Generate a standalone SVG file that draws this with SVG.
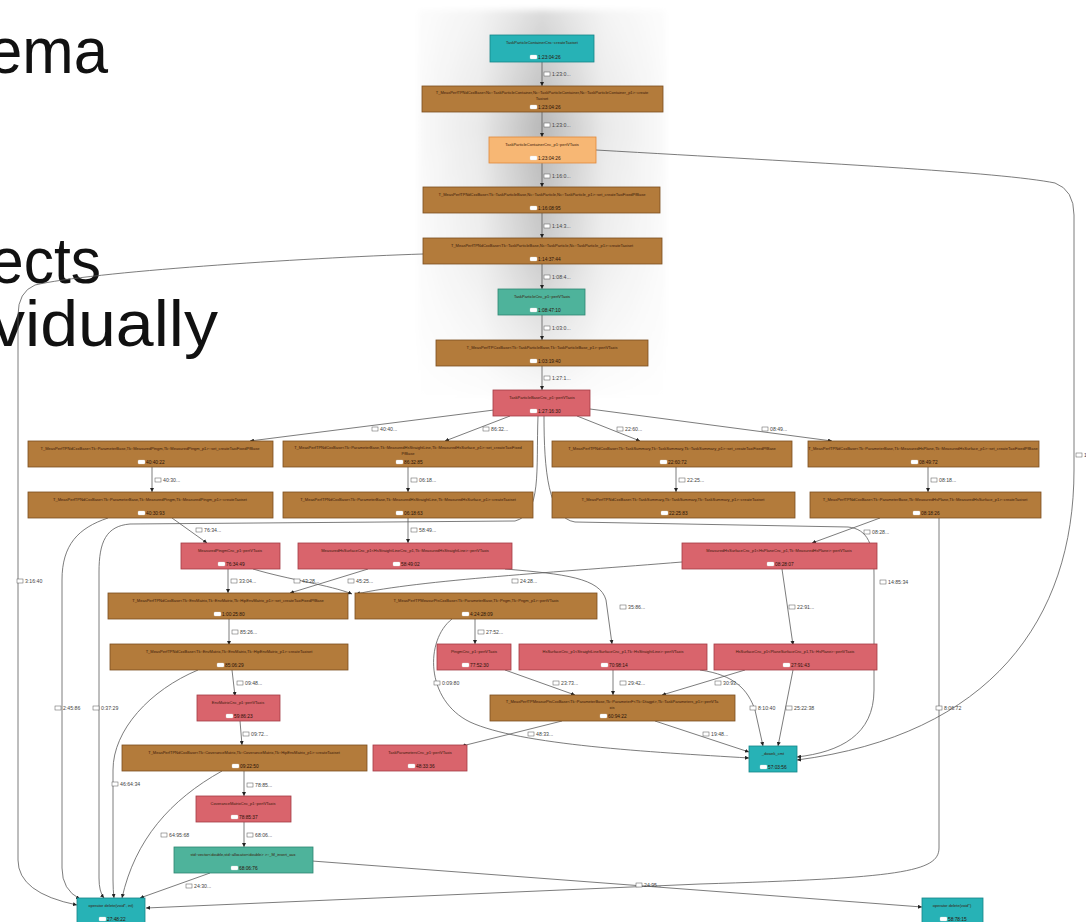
<svg xmlns="http://www.w3.org/2000/svg" width="1086" height="922" viewBox="0 0 1086 922">
<style>
.big{font-family:"Liberation Sans",Arial,sans-serif;font-size:64px;fill:#111}
.t{font-family:"Liberation Sans",Arial,sans-serif;font-size:4px;fill:#3a1a0a;text-anchor:middle}
.n{font-family:"Liberation Sans",Arial,sans-serif;font-size:4.8px;fill:#2a1208}
.brown{fill:#b37b3b;stroke:#7a4e1f;stroke-width:0.8}
.red{fill:#d9646c;stroke:#a33a44;stroke-width:0.8}
.cyan{fill:#27b2b6;stroke:#158488;stroke-width:0.8}
.green{fill:#4eb39b;stroke:#2d8670;stroke-width:0.8}
.orange{fill:#f7b774;stroke:#e0883a;stroke-width:0.8}
.ni{fill:#fff;stroke:#ddd;stroke-width:0.3}
.e{fill:none;stroke:#5a5a5a;stroke-width:0.8;marker-end:url(#a)}
.ic{fill:#fff;stroke:#555;stroke-width:0.5}
.el{font-family:"Liberation Sans",Arial,sans-serif;font-size:5.2px;fill:#444}
</style>
<defs>
<marker id="a" viewBox="0 0 6 6" refX="6" refY="3" markerWidth="4" markerHeight="4" orient="auto" markerUnits="userSpaceOnUse"><path d="M0,0 L6,3 L0,6z" fill="#222"/></marker>
<linearGradient id="hg" x1="0" y1="0" x2="1" y2="0">
<stop offset="0" stop-color="#fafafa"/><stop offset="0.25" stop-color="#e9e9e9"/><stop offset="0.5" stop-color="#b8b8b8"/><stop offset="0.75" stop-color="#e9e9e9"/><stop offset="1" stop-color="#fafafa"/>
</linearGradient>
<linearGradient id="vg" x1="0" y1="0" x2="0" y2="1">
<stop offset="0" stop-color="#fff" stop-opacity="0.5"/><stop offset="0.3" stop-color="#fff" stop-opacity="0"/><stop offset="0.65" stop-color="#fff" stop-opacity="0.3"/><stop offset="1" stop-color="#fff" stop-opacity="0.95"/>
</linearGradient>
<filter id="soft" x="-10%" y="-10%" width="120%" height="120%"><feGaussianBlur stdDeviation="3"/></filter>
</defs>
<rect width="1086" height="922" fill="#fff"/>
<g id="shade" filter="url(#soft)">
<rect x="418" y="10" width="248" height="388" fill="url(#hg)"/>
<rect x="418" y="10" width="248" height="388" fill="url(#vg)"/>
</g>
<g id="slide-text">
<text class="big" x="-12" y="73" textLength="120" lengthAdjust="spacingAndGlyphs">ema</text>
<text class="big" x="-10" y="283" textLength="111" lengthAdjust="spacingAndGlyphs">ects</text>
<text class="big" x="-9" y="346" textLength="227" lengthAdjust="spacingAndGlyphs">vidually</text>
</g>
<g id="connectors">
<path class="e" d="M542,62 L542,86"/>
<path class="e" d="M542,112 L542,137"/>
<path class="e" d="M542,163 L542,187"/>
<path class="e" d="M542,213 L542,238"/>
<path class="e" d="M542,264 L542,289"/>
<path class="e" d="M542,315 L542,340"/>
<path class="e" d="M542,366 L542,390"/>
<path class="e" d="M596,150 C820,163 1000,172 1055,183 Q1074,190 1074,215 L1074,470 C1074,620 990,735 797,760"/>
<path class="e" d="M423,254 C300,258 90,272 35,285 Q18,292 18,315 L18,860 Q18,893 77,905"/>
<path class="e" d="M494,410 L250,441"/>
<path class="e" d="M510,416 L445,441"/>
<path class="e" d="M577,416 L640,441"/>
<path class="e" d="M590,409 L832,441"/>
<path class="e" d="M152,467 L152,492"/>
<path class="e" d="M408,467 L408,492"/>
<path class="e" d="M676,467 L676,492"/>
<path class="e" d="M928,467 L928,492"/>
<path class="e" d="M172,518 L207,543"/>
<path class="e" d="M408,518 L408,543"/>
<path class="e" d="M880,518 L812,543"/>
<path class="e" d="M108,518 C78,528 62,545 62,580 L62,868 Q62,890 80,899"/>
<path class="e" d="M538,416 C536,470 542,514 515,521 L130,524 C106,526 99,542 99,572 L99,878 Q99,892 104,898"/>
<path class="e" d="M544,416 C544,470 548,518 575,522 L848,527 C868,529 874,545 874,575 L874,690 C874,735 840,752 797,757"/>
<path class="e" d="M228,569 L228,593"/>
<path class="e" d="M368,569 L290,593"/>
<path class="e" d="M253,569 C290,580 330,585 352,594"/>
<path class="e" d="M682,562 C560,572 420,580 356,594"/>
<path class="e" d="M505,569 C565,574 600,578 606,600 L612,644"/>
<path class="e" d="M782,569 L793,645"/>
<path class="e" d="M229,619 L229,645"/>
<path class="e" d="M475,619 L475,644"/>
<path class="e" d="M452,619 C425,640 425,700 470,722 C520,745 650,752 749,758"/>
<path class="e" d="M232,670 L235,696"/>
<path class="e" d="M198,670 C150,690 113,730 113,770 L113,880 Q113,890 114,898"/>
<path class="e" d="M505,670 L575,695"/>
<path class="e" d="M613,670 L613,695"/>
<path class="e" d="M745,670 L662,695"/>
<path class="e" d="M700,670 C735,675 748,690 755,710 L763,746"/>
<path class="e" d="M793,670 L778,746"/>
<path class="e" d="M562,721 L462,746"/>
<path class="e" d="M655,721 L749,752"/>
<path class="e" d="M240,721 L242,745"/>
<path class="e" d="M244,771 L244,796"/>
<path class="e" d="M222,771 C170,800 135,840 122,898"/>
<path class="e" d="M244,822 L244,847"/>
<path class="e" d="M210,873 L140,898"/>
<path class="e" d="M312,861 L922,907"/>
<path class="e" d="M939,518 L939,848 C939,872 900,878 700,884 L146,908"/>
<g id="edge-labels">
<rect class="ic" x="544" y="72" width="6" height="4"/><text class="el" x="552" y="76">1:23:0...</text>
<rect class="ic" x="544" y="123" width="6" height="4"/><text class="el" x="552" y="127">1:23:0...</text>
<rect class="ic" x="544" y="174" width="6" height="4"/><text class="el" x="552" y="178">1:16:0...</text>
<rect class="ic" x="544" y="224" width="6" height="4"/><text class="el" x="552" y="228">1:14:3...</text>
<rect class="ic" x="544" y="275" width="6" height="4"/><text class="el" x="552" y="279">1:08:4...</text>
<rect class="ic" x="544" y="326" width="6" height="4"/><text class="el" x="552" y="330">1:03:0...</text>
<rect class="ic" x="544" y="376" width="6" height="4"/><text class="el" x="552" y="380">1:27:1...</text>
<rect class="ic" x="1076" y="453" width="6" height="4"/><text class="el" x="1084" y="457">14:06:...</text>
<rect class="ic" x="17" y="579" width="6" height="4"/><text class="el" x="25" y="583">3:16:40</text>
<rect class="ic" x="372" y="427" width="6" height="4"/><text class="el" x="380" y="431">40:40...</text>
<rect class="ic" x="483" y="427" width="6" height="4"/><text class="el" x="491" y="431">86:32...</text>
<rect class="ic" x="617" y="427" width="6" height="4"/><text class="el" x="625" y="431">22:60...</text>
<rect class="ic" x="762" y="427" width="6" height="4"/><text class="el" x="770" y="431">08:49...</text>
<rect class="ic" x="155" y="478" width="6" height="4"/><text class="el" x="163" y="482">40:30...</text>
<rect class="ic" x="411" y="478" width="6" height="4"/><text class="el" x="419" y="482">06:18...</text>
<rect class="ic" x="679" y="478" width="6" height="4"/><text class="el" x="687" y="482">22:25...</text>
<rect class="ic" x="931" y="478" width="6" height="4"/><text class="el" x="939" y="482">08:18...</text>
<rect class="ic" x="196" y="528" width="6" height="4"/><text class="el" x="204" y="532">76:34...</text>
<rect class="ic" x="411" y="528" width="6" height="4"/><text class="el" x="419" y="532">58:49...</text>
<rect class="ic" x="864" y="530" width="6" height="4"/><text class="el" x="872" y="534">08:28...</text>
<rect class="ic" x="55" y="706" width="6" height="4"/><text class="el" x="63" y="710">2:45:86</text>
<rect class="ic" x="93" y="706" width="6" height="4"/><text class="el" x="101" y="710">0:37:29</text>
<rect class="ic" x="880" y="580" width="6" height="4"/><text class="el" x="888" y="584">14:85:34</text>
<rect class="ic" x="231" y="579" width="6" height="4"/><text class="el" x="239" y="583">33:04...</text>
<rect class="ic" x="294" y="579" width="6" height="4"/><text class="el" x="302" y="583">43:28...</text>
<rect class="ic" x="348" y="579" width="6" height="4"/><text class="el" x="356" y="583">45:25...</text>
<rect class="ic" x="512" y="579" width="6" height="4"/><text class="el" x="520" y="583">24:28...</text>
<rect class="ic" x="620" y="605" width="6" height="4"/><text class="el" x="628" y="609">35:86...</text>
<rect class="ic" x="789" y="605" width="6" height="4"/><text class="el" x="797" y="609">22:91...</text>
<rect class="ic" x="232" y="630" width="6" height="4"/><text class="el" x="240" y="634">85:26...</text>
<rect class="ic" x="478" y="630" width="6" height="4"/><text class="el" x="486" y="634">27:52...</text>
<rect class="ic" x="434" y="681" width="6" height="4"/><text class="el" x="442" y="685">0:09:80</text>
<rect class="ic" x="237" y="681" width="6" height="4"/><text class="el" x="245" y="685">09:48...</text>
<rect class="ic" x="112" y="782" width="6" height="4"/><text class="el" x="120" y="786">46:64:34</text>
<rect class="ic" x="553" y="681" width="6" height="4"/><text class="el" x="561" y="685">23:73...</text>
<rect class="ic" x="620" y="681" width="6" height="4"/><text class="el" x="628" y="685">29:42...</text>
<rect class="ic" x="715" y="681" width="6" height="4"/><text class="el" x="723" y="685">30:93...</text>
<rect class="ic" x="750" y="706" width="6" height="4"/><text class="el" x="758" y="710">8:10:40</text>
<rect class="ic" x="786" y="706" width="6" height="4"/><text class="el" x="794" y="710">25:22:38</text>
<rect class="ic" x="528" y="732" width="6" height="4"/><text class="el" x="536" y="736">48:33...</text>
<rect class="ic" x="703" y="732" width="6" height="4"/><text class="el" x="711" y="736">19:48...</text>
<rect class="ic" x="243" y="732" width="6" height="4"/><text class="el" x="251" y="736">09:72...</text>
<rect class="ic" x="247" y="783" width="6" height="4"/><text class="el" x="255" y="787">78:85...</text>
<rect class="ic" x="161" y="833" width="6" height="4"/><text class="el" x="169" y="837">64:95:68</text>
<rect class="ic" x="247" y="833" width="6" height="4"/><text class="el" x="255" y="837">68:06...</text>
<rect class="ic" x="186" y="884" width="6" height="4"/><text class="el" x="194" y="888">24:30...</text>
<rect class="ic" x="636" y="883" width="6" height="4"/><text class="el" x="644" y="887">24:95...</text>
<rect class="ic" x="936" y="706" width="6" height="4"/><text class="el" x="944" y="710">8:06:72</text>
</g>
</g>
<g id="n1"><rect class="cyan" x="490" y="35" width="104" height="27"/><text class="t" x="542" y="44">TaskParticleContainerCnc::createTaxiset</text><rect class="ni" x="530" y="55" width="7" height="4" rx="1"/><text class="n" x="538" y="59">1:23:04:26</text></g>
<g id="n2"><rect class="brown" x="422" y="86" width="241" height="26"/><text class="t" x="542" y="94">T_MeasPerfTPNdCxxBase&lt;Nc::TaskParticleContainer,Nc::TaskParticleContainer,Nc::TaskParticleContainer_p1&gt;::create</text><text class="t" x="542" y="100">Taxiset</text><rect class="ni" x="530" y="105" width="7" height="4" rx="1"/><text class="n" x="538" y="109">1:23:04:26</text></g>
<g id="n3"><rect class="orange" x="489" y="137" width="107" height="26"/><text class="t" x="542" y="146">TaskParticleContainerCnc_p1::pertVTaxis</text><rect class="ni" x="530" y="156" width="7" height="4" rx="1"/><text class="n" x="538" y="160">1:23:04:26</text></g>
<g id="n4"><rect class="brown" x="423" y="187" width="237" height="26"/><text class="t" x="542" y="196">T_MeasPerfTPNdCxxBase&lt;Tk::TaskParticleBase,Nc::TaskParticle,Nc::TaskParticle_p1&gt;::set_createTaxiFixedPfBase</text><rect class="ni" x="530" y="206" width="7" height="4" rx="1"/><text class="n" x="538" y="210">1:16:08:95</text></g>
<g id="n5"><rect class="brown" x="423" y="238" width="239" height="26"/><text class="t" x="542" y="247">T_MeasPerfTPNdCxxBase&lt;Tk::TaskParticleBase,Nc::TaskParticle,Nc::TaskParticle_p1&gt;::createTaxiset</text><rect class="ni" x="530" y="257" width="7" height="4" rx="1"/><text class="n" x="538" y="261">1:14:37:44</text></g>
<g id="n6"><rect class="green" x="498" y="289" width="87" height="26"/><text class="t" x="542" y="298">TaskParticleCnc_p1::pertVTaxis</text><rect class="ni" x="530" y="308" width="7" height="4" rx="1"/><text class="n" x="538" y="312">1:08:47:10</text></g>
<g id="n7"><rect class="brown" x="436" y="340" width="212" height="26"/><text class="t" x="542" y="349">T_MeasPerfTPCxxBase&lt;Tk::TaskParticleBase,Tk::TaskParticleBase_p1&gt;::pertVTaxis</text><rect class="ni" x="530" y="359" width="7" height="4" rx="1"/><text class="n" x="538" y="363">1:03:19:40</text></g>
<g id="n8"><rect class="red" x="493" y="390" width="97" height="26"/><text class="t" x="542" y="399">TaskParticleBaseCnc_p1::pertVTaxis</text><rect class="ni" x="530" y="409" width="7" height="4" rx="1"/><text class="n" x="538" y="413">1:27:16:30</text></g>
<g id="n9"><rect class="brown" x="28" y="441" width="245" height="26"/><text class="t" x="150" y="450">T_MeasPerfTPNdCxxBase&lt;Tk::ParameterBase,Tk::MeasuredPtngm,Tk::MeasuredPtngm_p1&gt;::set_createTaxiFixedPfBase</text><rect class="ni" x="138" y="460" width="7" height="4" rx="1"/><text class="n" x="146" y="464">40:40:22</text></g>
<g id="n10"><rect class="brown" x="283" y="441" width="250" height="26"/><text class="t" x="408" y="449">T_MeasPerfTPNdCxxBase&lt;Tk::ParameterBase,Tk::MeasuredHsStraightLine,Tk::MeasuredHsSurface_p1&gt;::set_createTaxiFixed</text><text class="t" x="408" y="455">PfBase</text><rect class="ni" x="396" y="460" width="7" height="4" rx="1"/><text class="n" x="404" y="464">86:32:85</text></g>
<g id="n11"><rect class="brown" x="552" y="441" width="240" height="26"/><text class="t" x="672" y="450">T_MeasPerfTPNdCxxBase&lt;Tk::TaskSummary,Tk::TaskSummary,Tk::TaskSummary_p1&gt;::set_createTaxiFixedPfBase</text><rect class="ni" x="660" y="460" width="7" height="4" rx="1"/><text class="n" x="668" y="464">22:60:72</text></g>
<g id="n12"><rect class="brown" x="808" y="441" width="231" height="26"/><text class="t" x="923" y="450">T_MeasPerfTPNdCxxBase&lt;Tk::ParameterBase,Tk::MeasuredHsPlane,Tk::MeasuredHsSurface_p1&gt;::set_createTaxiFixedPfBase</text><rect class="ni" x="911" y="460" width="7" height="4" rx="1"/><text class="n" x="919" y="464">08:49:72</text></g>
<g id="n13"><rect class="brown" x="28" y="492" width="245" height="26"/><text class="t" x="150" y="501">T_MeasPerfTPNdCxxBase&lt;Tk::ParameterBase,Tk::MeasuredPtngm,Tk::MeasuredPtngm_p1&gt;::createTaxiset</text><rect class="ni" x="138" y="511" width="7" height="4" rx="1"/><text class="n" x="146" y="515">40:30:93</text></g>
<g id="n14"><rect class="brown" x="283" y="492" width="250" height="26"/><text class="t" x="408" y="501">T_MeasPerfTPNdCxxBase&lt;Tk::ParameterBase,Tk::MeasuredHsStraightLine,Tk::MeasuredHsSurface_p1&gt;::createTaxiset</text><rect class="ni" x="396" y="511" width="7" height="4" rx="1"/><text class="n" x="404" y="515">06:18:63</text></g>
<g id="n15"><rect class="brown" x="552" y="492" width="243" height="26"/><text class="t" x="673" y="501">T_MeasPerfTPNdCxxBase&lt;Tk::TaskSummary,Tk::TaskSummary,Tk::TaskSummary_p1&gt;::createTaxiset</text><rect class="ni" x="661" y="511" width="7" height="4" rx="1"/><text class="n" x="669" y="515">22:25:83</text></g>
<g id="n16"><rect class="brown" x="810" y="492" width="231" height="26"/><text class="t" x="925" y="501">T_MeasPerfTPNdCxxBase&lt;Tk::ParameterBase,Tk::MeasuredHsPlane,Tk::MeasuredHsSurface_p1&gt;::createTaxiset</text><rect class="ni" x="913" y="511" width="7" height="4" rx="1"/><text class="n" x="921" y="515">08:18:26</text></g>
<g id="n17"><rect class="red" x="181" y="543" width="99" height="26"/><text class="t" x="230" y="552">MeasuredPtngmCnc_p1::pertVTaxis</text><rect class="ni" x="218" y="562" width="7" height="4" rx="1"/><text class="n" x="226" y="566">76:34:49</text></g>
<g id="n18"><rect class="red" x="298" y="543" width="214" height="26"/><text class="t" x="405" y="552">MeasuredHsSurfaceCnc_p1&lt;HsStraightLineCnc_p1,Tk::MeasuredHsStraightLine&gt;::pertVTaxis</text><rect class="ni" x="393" y="562" width="7" height="4" rx="1"/><text class="n" x="401" y="566">58:49:02</text></g>
<g id="n19"><rect class="red" x="682" y="543" width="195" height="26"/><text class="t" x="779" y="552">MeasuredHsSurfaceCnc_p1&lt;HsPlaneCnc_p1,Tk::MeasuredHsPlane&gt;::pertVTaxis</text><rect class="ni" x="767" y="562" width="7" height="4" rx="1"/><text class="n" x="775" y="566">08:28:07</text></g>
<g id="n20"><rect class="brown" x="108" y="593" width="240" height="26"/><text class="t" x="228" y="602">T_MeasPerfTPNdCxxBase&lt;Tk::EnvMatrix,Tk::EnvMatrix,Tk::HipEnvMatrix_p1&gt;::set_createTaxiFixedPfBase</text><rect class="ni" x="214" y="612" width="7" height="4" rx="1"/><text class="n" x="222" y="616">1:00:25:80</text></g>
<g id="n21"><rect class="brown" x="355" y="593" width="242" height="26"/><text class="t" x="476" y="602">T_MeasPerfTPMeasurPtsCxxBase&lt;Tk::ParameterBase,Tk::Pngm,Tk::Pngm_p1&gt;::pertVTaxis</text><rect class="ni" x="462" y="612" width="7" height="4" rx="1"/><text class="n" x="470" y="616">4:24:28:09</text></g>
<g id="n22"><rect class="brown" x="110" y="644" width="238" height="26"/><text class="t" x="229" y="653">T_MeasPerfTPNdCxxBase&lt;Tk::EnvMatrix,Tk::EnvMatrix,Tk::HipEnvMatrix_p1&gt;::createTaxiset</text><rect class="ni" x="217" y="663" width="7" height="4" rx="1"/><text class="n" x="225" y="667">85:06:29</text></g>
<g id="n23"><rect class="red" x="437" y="644" width="74" height="26"/><text class="t" x="474" y="653">PtngmCnc_p1::pertVTaxis</text><rect class="ni" x="462" y="663" width="7" height="4" rx="1"/><text class="n" x="470" y="667">77:52:30</text></g>
<g id="n24"><rect class="red" x="519" y="644" width="188" height="26"/><text class="t" x="613" y="653">HsSurfaceCnc_p1&lt;StraightLineSurfaceCnc_p1,Tk::HsStraightLine&gt;::pertVTaxis</text><rect class="ni" x="601" y="663" width="7" height="4" rx="1"/><text class="n" x="609" y="667">70:98:14</text></g>
<g id="n25"><rect class="red" x="714" y="644" width="163" height="26"/><text class="t" x="795" y="653">HsSurfaceCnc_p1&lt;PlaneSurfaceCnc_p1,Tk::HsPlane&gt;::pertVTaxis</text><rect class="ni" x="783" y="663" width="7" height="4" rx="1"/><text class="n" x="791" y="667">27:91:43</text></g>
<g id="n26"><rect class="red" x="197" y="695" width="83" height="26"/><text class="t" x="238" y="704">EnvMatrixCnc_p1::pertVTaxis</text><rect class="ni" x="226" y="714" width="7" height="4" rx="1"/><text class="n" x="234" y="718">59:86:23</text></g>
<g id="n27"><rect class="brown" x="490" y="695" width="245" height="26"/><text class="t" x="612" y="703">T_MeasPerfTPMeasurPtsCxxBase&lt;Tk::ParameterBase,Tk::ParameterF&lt;Tk::Dtagpt&gt;,Tk::TaskParameters_p1&gt;::pertVTa</text><text class="t" x="612" y="709">xis</text><rect class="ni" x="600" y="714" width="7" height="4" rx="1"/><text class="n" x="608" y="718">60:94:22</text></g>
<g id="n28"><rect class="brown" x="122" y="745" width="245" height="26"/><text class="t" x="244" y="754">T_MeasPerfTPNdCxxBase&lt;Tk::CoveranceMatrix,Tk::CoveranceMatrix,Tk::HipEnvMatrix_p1&gt;::createTaxiset</text><rect class="ni" x="232" y="764" width="7" height="4" rx="1"/><text class="n" x="240" y="768">09:22:50</text></g>
<g id="n29"><rect class="red" x="373" y="745" width="94" height="26"/><text class="t" x="420" y="754">TaskParametersCnc_p1::pertVTaxis</text><rect class="ni" x="408" y="764" width="7" height="4" rx="1"/><text class="n" x="416" y="768">48:33:36</text></g>
<g id="n30"><rect class="cyan" x="749" y="746" width="48" height="26"/><text class="t" x="773" y="755">_dowek_cmt</text><rect class="ni" x="760" y="765" width="7" height="4" rx="1"/><text class="n" x="768" y="769">57:03:56</text></g>
<g id="n31"><rect class="red" x="196" y="796" width="95" height="26"/><text class="t" x="243" y="805">CoveranceMatrixCnc_p1::pertVTaxis</text><rect class="ni" x="231" y="815" width="7" height="4" rx="1"/><text class="n" x="239" y="819">78:85:37</text></g>
<g id="n32"><rect class="green" x="174" y="847" width="139" height="26"/><text class="t" x="243" y="856">std::vector&lt;double,std::allocator&lt;double&gt; &gt;::_M_insert_aux</text><rect class="ni" x="231" y="866" width="7" height="4" rx="1"/><text class="n" x="239" y="870">68:06:76</text></g>
<g id="n33"><rect class="cyan" x="77" y="898" width="68" height="26"/><text class="t" x="111" y="907">operator delete(void*, int)</text><rect class="ni" x="99" y="917" width="7" height="4" rx="1"/><text class="n" x="107" y="921">27:48:22</text></g>
<g id="n34"><rect class="cyan" x="922" y="898" width="61" height="26"/><text class="t" x="952" y="907">operator delete(void*)</text><rect class="ni" x="940" y="917" width="7" height="4" rx="1"/><text class="n" x="948" y="921">58:78:15</text></g>
</svg>
